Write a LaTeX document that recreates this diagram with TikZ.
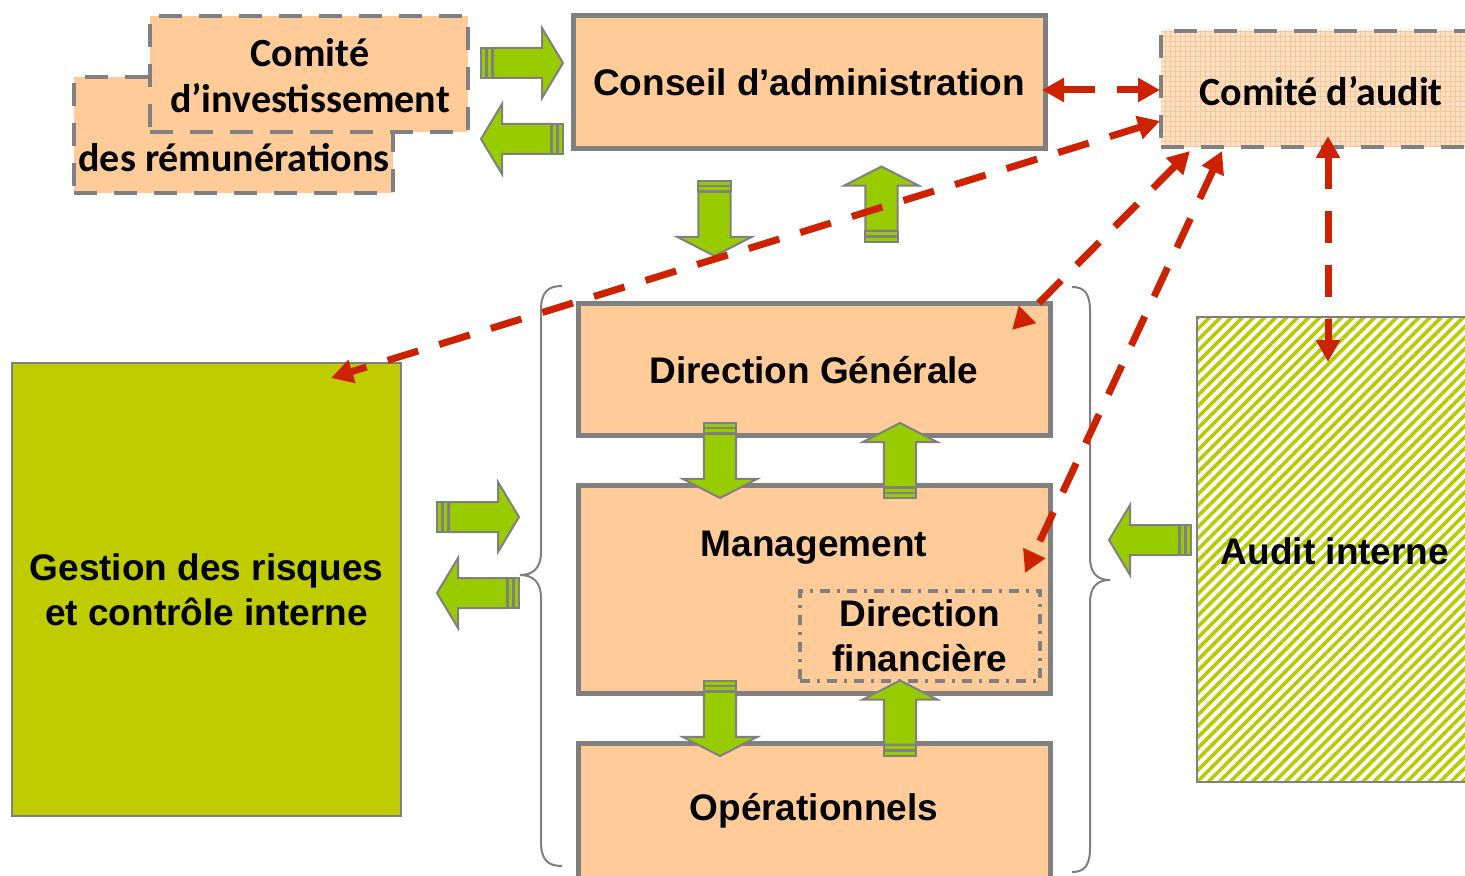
\documentclass[tikz,border=0pt]{standalone}
\usepackage{fontspec}
\setmainfont{Liberation Sans}
\newfontfamily\calfont{Carlito}
\usetikzlibrary{arrows.meta,patterns.meta}

\definecolor{peach}{RGB}{255,204,153}
\definecolor{peachlight}{RGB}{255,226,198}
\definecolor{peachgrid}{RGB}{252,196,148}
\definecolor{bordergray}{RGB}{128,128,128}
\definecolor{arrowgreen}{RGB}{153,204,0}
\definecolor{olivegreen}{RGB}{191,204,0}
\definecolor{hatchgreen}{RGB}{182,204,0}
\definecolor{redline}{RGB}{204,34,0}

\begin{document}
\begin{tikzpicture}[x=0.5pt,y=-0.5pt,
  box/.style={draw=bordergray, fill=peach, line width=2.5pt, inner sep=0pt, outer sep=0pt,
    font=\bfseries\fontsize{18.5}{22.5}\selectfont, align=center},
  committee/.style={draw=bordergray, fill=peach, line width=2.4pt, dash pattern=on 11.5pt off 8.5pt,
    inner sep=0pt, outer sep=0pt},
  lbl/.style={font=\bfseries\fontsize{18.5}{22.5}\selectfont, align=center, inner sep=0pt},
  clbl/.style={font=\calfont\bfseries\fontsize{20}{23}\selectfont, align=center, inner sep=0pt},
  garrowpath/.style={draw=bordergray, fill=arrowgreen, line width=1pt, line join=miter},
  reddash/.style={draw=redline, line width=3.5pt, dash pattern=on 16pt off 11pt,
    {Triangle[length=11pt,width=11.5pt]}-{Triangle[length=11pt,width=11.5pt]}},
  bracepath/.style={draw=bordergray, line width=1pt},
  garrow/.pic={
    \path[garrowpath] (-29,-15) -- (20,-15) -- (20,-35) -- (41,0) -- (20,35) -- (20,15) -- (-29,15) -- cycle;
    \path[garrowpath] (-41,-15) rectangle (-36,15);
    \path[garrowpath] (-35,-15) rectangle (-30,15);
  }]

\clip (0,0) rectangle (1465,876);
\fill[white] (0,0) rectangle (1465,876);

% committees (top left)
\node[committee, minimum width=159.5pt, minimum height=58pt] (crem) at (233.5,135) {};
\node[committee, minimum width=159pt, minimum height=58pt] (cinv) at (309,74) {};
\node[clbl] (tinv) at (310,76) {Comité\\d’investissement};
\node[clbl, anchor=west] (trem) at (78,158) {des rémunérations};

% board
\node[box, minimum width=236pt, minimum height=66.5pt] (conseil) at (809,82.5) {Conseil d’administration};

% audit committee
\node[draw=bordergray, line width=2.4pt, dash pattern=on 11.5pt off 8.5pt, inner sep=0pt, outer sep=0pt,
  preaction={fill=peachlight}, pattern={Hatch[angle=0,distance=2.5pt,line width=0.45pt]}, pattern color=peachgrid,
  minimum width=160pt, minimum height=58pt] (caudit) at (1321,89) {};
\node[clbl] (taudit) at (1321,91) {Comité d’audit};

% risk management
\node[draw=bordergray, fill=olivegreen, line width=1pt, inner sep=0pt, outer sep=0pt,
  minimum width=194.5pt, minimum height=226.5pt, lbl] (gestion) at (206.5,589.5)
  {Gestion des risques\\et contrôle interne};

% internal audit
\node[draw=bordergray, line width=1pt, inner sep=0pt, outer sep=0pt,
  pattern={Lines[angle=45,distance=3.9pt,line width=1.8pt]}, pattern color=hatchgreen,
  minimum width=139pt, minimum height=232.5pt] (auditint) at (1336,549.5) {};
\node[lbl] (tauditint) at (1335,551) {Audit interne};

% management column
\node[box, minimum width=236pt, minimum height=66pt] (dg) at (814,370) {Direction Générale};
\node[box, minimum width=236pt, minimum height=104pt] (mgmt) at (814,589) {};
\node[lbl] (tmgmt) at (814,548) {Management};
\node[draw=bordergray, line width=2pt, dash pattern=on 5pt off 3.5pt on 1.5pt off 3.5pt,
  inner sep=0pt, outer sep=0pt, minimum width=120pt, minimum height=45pt, lbl] (df) at (920,636)
  {Direction\\financière};
\node[box, minimum width=236pt, minimum height=68pt] (oper) at (814,811) {Opérationnels};

% braces
\draw[bracepath] (562,286) .. controls (548,286) and (541,292) .. (541,310) -- (541,552)
  .. controls (541,568) and (533,575) .. (520,575) .. controls (533,575) and (541,582) .. (541,598)
  -- (541,842) .. controls (541,860) and (548,866) .. (562,866);
\draw[bracepath] (1072,287) .. controls (1084,287) and (1090,293) .. (1090,311) -- (1090,557)
  .. controls (1090,573) and (1097,580) .. (1110,580) .. controls (1097,580) and (1090,587) .. (1090,603)
  -- (1090,848) .. controls (1090,866) and (1084,872) .. (1072,872);

% green block arrows
\pic at (522,63) {garrow};
\pic[rotate=180] at (522,139) {garrow};
\pic[rotate=-90, xscale=0.915, yscale=1.07] at (714.5,218.5) {garrow};
\pic[rotate=90, xscale=0.915, yscale=1.07] at (881.5,204) {garrow};
\pic[rotate=-90, xscale=0.915, yscale=1.07] at (720,460.5) {garrow};
\pic[rotate=90, xscale=0.915, yscale=1.07] at (900,460.5) {garrow};
\pic[rotate=-90, xscale=0.915, yscale=1.07] at (720,718.5) {garrow};
\pic[rotate=90, xscale=0.915, yscale=1.07] at (900,718) {garrow};
\pic at (478,517) {garrow};
\pic[rotate=180] at (478,593) {garrow};
\pic[rotate=180] at (1150,540) {garrow};

% red dashed connectors
\coordinate (r1a) at (1042,90);
\coordinate (r1b) at (1160,90);
\coordinate (r2a) at (1160,121);
\coordinate (r2b) at (331,378);
\coordinate (r3a) at (1190,151);
\coordinate (r3b) at (1012,330);
\coordinate (r4a) at (1222,151);
\coordinate (r4b) at (1025,573);
\coordinate (r5a) at (1328,136);
\coordinate (r5b) at (1328,362);
\draw[reddash] (r1a) -- (r1b);
\draw[reddash] (r2a) -- (r2b);
\draw[reddash] (r3a) -- (r3b);
\draw[reddash] (r4a) -- (r4b);
\draw[reddash] (r5a) -- (r5b);
\end{tikzpicture}
\end{document}
